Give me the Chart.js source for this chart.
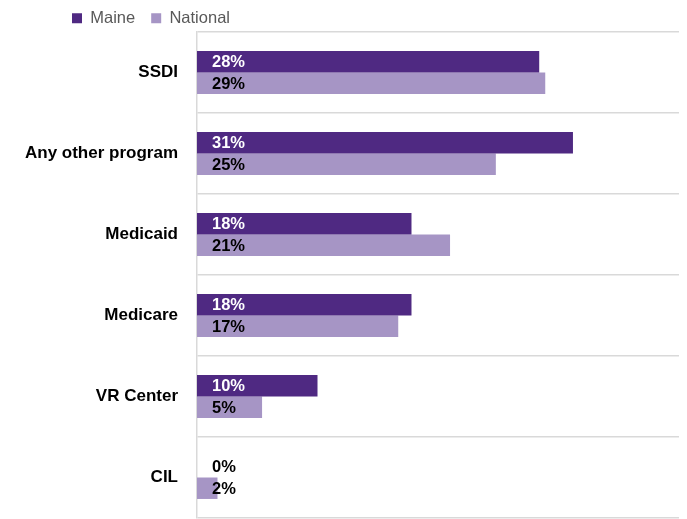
<!DOCTYPE html>
<html><head><meta charset="utf-8">
<script src="https://cdn.jsdelivr.net/npm/chart.js@4"></script>
<style>html,body{margin:0;padding:0;background:#fff}#wrap{width:687px;height:519px}</style>
</head><body><div id="wrap"><canvas id="c" width="687" height="519"></canvas></div>
<script>
const categories = ['SSDI', 'Any other program', 'Medicaid', 'Medicare', 'VR Center', 'CIL'];
const maineValues = [28.4, 31.2, 17.8, 17.8, 10.0, 0];
const nationalValues = [28.9, 24.8, 21.0, 16.7, 5.4, 1.7];
const seriesNames = ['Maine', 'National'];
const seriesColors = ['#4F2982', '#A695C5'];

const valueLabels = {
  id: 'valueLabels',
  afterDatasetsDraw(chart) {
    const ctx = chart.ctx;
    const x0 = chart.scales.x.getPixelForValue(0);
    chart.data.datasets.forEach((ds, i) => {
      const meta = chart.getDatasetMeta(i);
      meta.data.forEach((el, j) => {
        const v = ds.data[j];
        ctx.save();
        ctx.font = 'bold 16.5px "Liberation Sans", Arial, sans-serif';
        ctx.fillStyle = (i === 0 && v > 2) ? '#ffffff' : '#000000';
        ctx.textAlign = 'left';
        ctx.textBaseline = 'middle';
        ctx.fillText(Math.round(v) + '%', x0 + 15, el.y + 1);
        ctx.restore();
      });
    });
  }
};
const legendTweak = {
  id: 'legendTweak',
  afterInit(chart) {
    const lg = chart.legend;
    if (lg && !lg._wrapped) {
      const orig = lg.fit.bind(lg);
      lg.fit = function () { orig(); this.height = 32; };
      lg._wrapped = true;
    }
  },
  afterLayout(chart) {
    const lg = chart.legend;
    if (lg) { lg.top -= 6; lg.bottom -= 6; lg.left += 56; lg.right += 56; }
  }
};

new Chart(document.getElementById('c'), {
  type: 'bar',
  data: {
    labels: categories,
    datasets: [
      { label: seriesNames[0], data: maineValues, backgroundColor: seriesColors[0], borderWidth: 0 },
      { label: seriesNames[1], data: nationalValues, backgroundColor: seriesColors[1], borderWidth: 0 }
    ]
  },
  options: {
    indexAxis: 'y',
    responsive: false,
    animation: false,
    devicePixelRatio: 1,
    categoryPercentage: 0.53,
    barPercentage: 1.0,
    layout: { padding: { left: 0, right: 8, top: 0, bottom: 1 } },
    plugins: {
      legend: {
        position: 'top',
        align: 'start',
        labels: {
          boxWidth: 10, boxHeight: 10, padding: 16,
          color: '#595959',
          font: { family: '"Liberation Sans", Arial, sans-serif', size: 16.5 }
        }
      },
      tooltip: { enabled: false }
    },
    scales: {
      x: { display: false, min: 0, max: 40 },
      y: {
        grid: { display: true, offset: true, color: '#d9d9d9', lineWidth: 1.5, drawTicks: false },
        border: { display: true, color: '#d9d9d9', width: 1.5 },
        ticks: {
          padding: 19,
          color: '#000000',
          font: { family: '"Liberation Sans", Arial, sans-serif', size: 17, weight: 'bold' }
        },
        afterFit(scale) { scale.width = 197; scale.paddingTop = 0; scale.paddingBottom = 0; }
      }
    }
  },
  plugins: [valueLabels, legendTweak]
});
</script>
</body></html>
